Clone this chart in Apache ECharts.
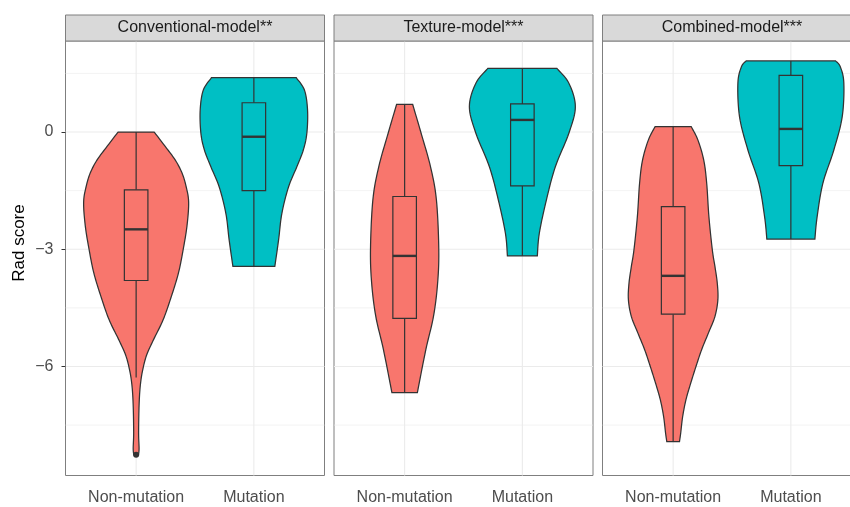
<!DOCTYPE html>
<html>
<head>
<meta charset="utf-8">
<script src="https://cdn.jsdelivr.net/npm/echarts@6/dist/echarts.min.js"></script>
<style>
  html, body { margin: 0; padding: 0; background: #ffffff; }
  #chart { width: 850px; height: 507px; }
</style>
</head>
<body>
<div id="chart"></div>
<script>
// ---- data -------------------------------------------------------------
const facets = ['Conventional-model**', 'Texture-model***', 'Combined-model***'];
const groups = ['Non-mutation', 'Mutation'];
const yTicks = [-6, -3, 0];
const yMinorLines = [-7.5, -4.5, -1.5, 1.5];

// violin outlines: [rad score, half width of the violin in category units]
const convNonMutViolin = [[0.00, 0.153], [-0.38, 0.25], [-0.72, 0.333], [-1.05, 0.39], [-1.40, 0.425],
  [-1.80, 0.446], [-2.40, 0.432], [-3.00, 0.40], [-3.60, 0.36], [-4.20, 0.30], [-4.80, 0.23],
  [-5.30, 0.15], [-5.70, 0.09], [-6.10, 0.055], [-6.50, 0.035], [-7.00, 0.025], [-7.70, 0.021],
  [-8.10, 0.025], [-8.26, 0.02]];
const convMutViolin = [[1.39, 0.36], [1.07, 0.43], [0.56, 0.456], [-0.03, 0.45], [-0.46, 0.42],
  [-0.89, 0.365], [-1.40, 0.295], [-2.08, 0.238], [-2.76, 0.21], [-3.44, 0.178]];
const texNonMutViolin = [[0.71, 0.068], [-0.03, 0.14], [-0.89, 0.22], [-1.74, 0.27], [-3.00, 0.29],
  [-3.87, 0.28], [-4.72, 0.245], [-5.57, 0.18], [-6.67, 0.108]];
const texMutViolin = [[1.63, 0.293], [1.25, 0.395], [0.65, 0.45], [-0.03, 0.395], [-0.89, 0.28],
  [-1.74, 0.204], [-2.59, 0.144], [-3.17, 0.127]];
const combNonMutViolin = [[0.14, 0.153], [-0.20, 0.21], [-0.72, 0.26], [-1.31, 0.285], [-2.17, 0.304],
  [-3.02, 0.333], [-3.44, 0.355], [-3.87, 0.375], [-4.29, 0.38], [-4.72, 0.355], [-5.14, 0.30],
  [-5.57, 0.242], [-6.00, 0.194], [-6.43, 0.149], [-6.85, 0.109], [-7.28, 0.081], [-7.71, 0.064], [-7.92, 0.054]];
const combMutViolin = [[1.82, 0.38], [1.67, 0.42], [1.25, 0.45], [0.39, 0.436], [-0.46, 0.365],
  [-1.31, 0.272], [-2.17, 0.223], [-2.74, 0.204]];

// box statistics: [lower whisker, Q1, median, Q3, upper whisker]
const convNonMutBox = [-6.28, -3.80, -2.49, -1.48, 0.00];
const convMutBox = [-3.44, -1.50, -0.12, 0.75, 1.39];
const texNonMutBox = [-6.67, -4.77, -3.17, -1.65, 0.71];
const texMutBox = [-3.17, -1.38, 0.31, 0.72, 1.63];
const combNonMutBox = [-7.92, -4.66, -3.68, -1.91, 0.14];
const combMutBox = [-2.74, -0.86, 0.08, 1.45, 1.82];

// points beyond the whiskers
const convNonMutOutliers = [-8.26];
const convMutOutliers = [];
const texNonMutOutliers = [];
const texMutOutliers = [];
const combNonMutOutliers = [];
const combMutOutliers = [];

// ---- assembly ---------------------------------------------------------
const violins = [
  [convNonMutViolin, convMutViolin],
  [texNonMutViolin, texMutViolin],
  [combNonMutViolin, combMutViolin]
];
const boxes = [
  [convNonMutBox, convMutBox],
  [texNonMutBox, texMutBox],
  [combNonMutBox, combMutBox]
];
const outliers = [
  [convNonMutOutliers, convMutOutliers],
  [texNonMutOutliers, texMutOutliers],
  [combNonMutOutliers, combMutOutliers]
];
const fills = ['#F8766D', '#00BFC4'];

// ---- layout -----------------------------------------------------------
const panelLeft = [65.5, 334, 602.5];
const panelWidth = 259;
const panelTop = 41;
const panelHeight = 434.5;
const stripTop = 15;
const stripHeight = 26;
const Y_MIN = -8.79, Y_MAX = 2.33;
const FONT = '"Liberation Sans", Arial, Helvetica, sans-serif';
const INK = '#333333';

// Catmull-Rom resampling of one side of a violin outline (pixel space)
function smoothSide(pts, steps) {
  const out = [];
  for (let i = 0; i < pts.length - 1; i++) {
    const p0 = pts[Math.max(i - 1, 0)], p1 = pts[i], p2 = pts[i + 1], p3 = pts[Math.min(i + 2, pts.length - 1)];
    for (let s = 0; s < steps; s++) {
      const t = s / steps, t2 = t * t, t3 = t2 * t;
      out.push([0, 1].map(k => 0.5 * (2 * p1[k] + (-p0[k] + p2[k]) * t +
        (2 * p0[k] - 5 * p1[k] + 4 * p2[k] - p3[k]) * t2 +
        (-p0[k] + 3 * p1[k] - 3 * p2[k] + p3[k]) * t3)));
    }
  }
  out.push(pts[pts.length - 1]);
  return out;
}

const grids = [], xAxes = [], yAxes = [], series = [], graphics = [];

facets.forEach((name, f) => {
  grids.push({
    left: panelLeft[f], top: panelTop, width: panelWidth, height: panelHeight,
    outerBoundsMode: 'none', containLabel: false,
    show: true, borderColor: '#7f7f7f', borderWidth: 1, backgroundColor: 'transparent'
  });
  xAxes.push({
    gridIndex: f, type: 'value', min: 0.4, max: 2.6,
    splitLine: { show: false },
    axisLine: { show: false },
    axisTick: { show: true, customValues: [1, 2], length: 4, lineStyle: { color: INK, width: 1 } },
    axisLabel: {
      show: true, customValues: [1, 2], margin: 14,
      formatter: v => groups[Math.round(v) - 1],
      color: '#4D4D4D', fontSize: 16, fontFamily: FONT
    }
  });
  yAxes.push({
    gridIndex: f, type: 'value', min: Y_MIN, max: Y_MAX,
    splitLine: { show: false },
    axisLine: { show: false },
    axisTick: { show: f === 0, customValues: yTicks, length: 4, lineStyle: { color: INK, width: 1 } },
    axisLabel: {
      show: f === 0, customValues: yTicks, margin: 12,
      formatter: v => String(v).replace('-', '\u2212'),
      color: '#4D4D4D', fontSize: 16, fontFamily: FONT
    }
  });

  // background grid lines
  const gridData = [];
  yTicks.forEach(v => gridData.push(['y', v, 1]));
  yMinorLines.forEach(v => gridData.push(['y', v, 0]));
  [1, 2].forEach(v => gridData.push(['x', v, 1]));
  series.push({
    type: 'custom', xAxisIndex: f, yAxisIndex: f, z: 0, silent: true,
    data: gridData.map((d, i) => [i]),
    renderItem(params, api) {
      const [dir, v, major] = gridData[params.dataIndex];
      const a = dir === 'y' ? api.coord([0.4, v]) : api.coord([v, Y_MAX]);
      const b = dir === 'y' ? api.coord([2.6, v]) : api.coord([v, Y_MIN]);
      return {
        type: 'line',
        shape: { x1: a[0], y1: a[1], x2: b[0], y2: b[1] },
        style: { stroke: '#EBEBEB', lineWidth: major ? 1.1 : 0.6 }
      };
    }
  });

  // violins with box plots
  series.push({
    type: 'custom', xAxisIndex: f, yAxisIndex: f, z: 3, silent: true,
    data: [[1], [2]],
    renderItem(params, api) {
      const g = params.dataIndex;
      const cx = api.value(0);
      const prof = violins[f][g];
      const right = smoothSide(prof.map(([y, w]) => api.coord([cx + w, y])), 10);
      const left = smoothSide(prof.map(([y, w]) => api.coord([cx - w, y])), 10).reverse();
      const [lw, q1, med, q3, uw] = boxes[f][g];
      const half = 0.1;
      const tl = api.coord([cx - half, q3]);
      const br = api.coord([cx + half, q1]);
      const c = x => api.coord(x);
      const children = [
        { type: 'polygon', shape: { points: right.concat(left) },
          style: { fill: fills[g], stroke: INK, lineWidth: 1.25 } },
        { type: 'line', shape: { x1: c([cx, uw])[0], y1: c([cx, uw])[1], x2: c([cx, q3])[0], y2: c([cx, q3])[1] },
          style: { stroke: INK, lineWidth: 1.2 } },
        { type: 'line', shape: { x1: c([cx, q1])[0], y1: c([cx, q1])[1], x2: c([cx, lw])[0], y2: c([cx, lw])[1] },
          style: { stroke: INK, lineWidth: 1.2 } },
        { type: 'rect', shape: { x: tl[0], y: tl[1], width: br[0] - tl[0], height: br[1] - tl[1] },
          style: { fill: fills[g], stroke: INK, lineWidth: 1.2 } },
        { type: 'line', shape: { x1: c([cx - half, med])[0], y1: c([cx - half, med])[1], x2: c([cx + half, med])[0], y2: c([cx + half, med])[1] },
          style: { stroke: INK, lineWidth: 2.4 } }
      ];
      outliers[f][g].forEach(o => {
        const p = api.coord([cx, o]);
        children.push({ type: 'circle', shape: { cx: p[0], cy: p[1], r: 3 }, style: { fill: INK } });
      });
      return { type: 'group', children };
    }
  });

  // facet strip
  graphics.push({
    type: 'rect', x: panelLeft[f], y: stripTop, z: 10,
    shape: { x: 0, y: 0, width: panelWidth, height: stripHeight },
    style: { fill: '#D9D9D9', stroke: '#7f7f7f', lineWidth: 1 }
  });
  graphics.push({
    type: 'text', z: 11,
    x: panelLeft[f] + panelWidth / 2, y: stripTop + stripHeight / 2,
    style: { text: name, fill: '#1A1A1A', font: '16px ' + FONT, textAlign: 'center', textVerticalAlign: 'middle' }
  });
});

// y axis title
graphics.push({
  type: 'text', z: 11, x: 19, y: 243, rotation: Math.PI / 2,
  style: { text: 'Rad score', fill: '#000000', font: '17px ' + FONT, textAlign: 'center', textVerticalAlign: 'middle' }
});

const chart = echarts.init(document.getElementById('chart'), null, { renderer: 'canvas' });
chart.setOption({
  animation: false,
  backgroundColor: '#ffffff',
  grid: grids,
  xAxis: xAxes,
  yAxis: yAxes,
  series: series,
  graphic: graphics
});
</script>
</body>
</html>
